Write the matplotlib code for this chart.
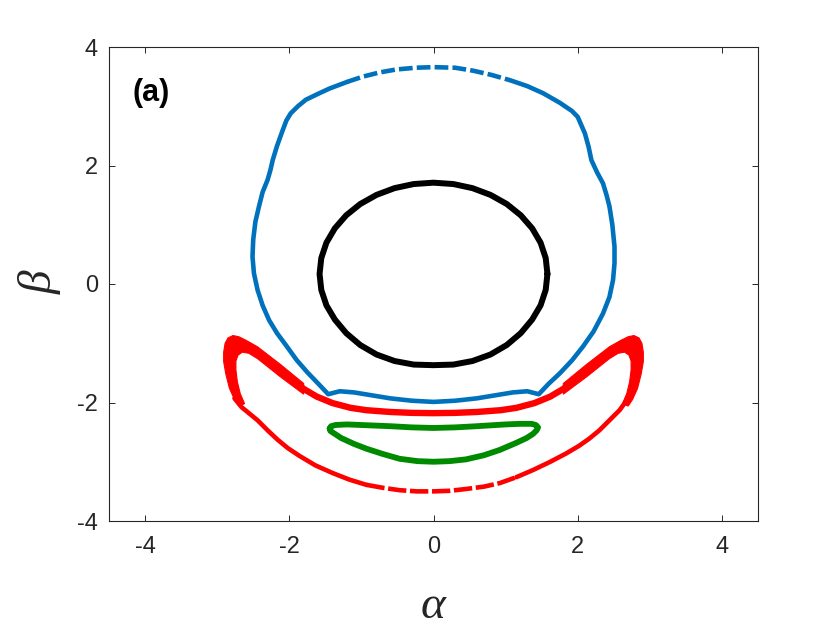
import matplotlib
matplotlib.use("Agg")
import matplotlib.pyplot as plt

# ---------------- data ----------------
# black closed orbit (ellipse-like)
black_x = [1.58, 1.556, 1.485, 1.368, 1.210, 1.016, 0.790, 0.540, 0.275, 0.0,
           -0.275, -0.540, -0.790, -1.016, -1.210, -1.368, -1.485, -1.556, -1.58,
           -1.556, -1.485, -1.368, -1.210, -1.016, -0.790, -0.540, -0.275, 0.0,
           0.275, 0.540, 0.790, 1.016, 1.210, 1.368, 1.485, 1.556, 1.58]
black_y = [0.17, 0.438, 0.697, 0.94, 1.160, 1.350, 1.504, 1.618, 1.687, 1.71,
           1.687, 1.618, 1.504, 1.350, 1.160, 0.94, 0.697, 0.438, 0.17,
           -0.10, -0.36, -0.60, -0.83, -1.03, -1.19, -1.30, -1.36, -1.37,
           -1.36, -1.30, -1.19, -1.03, -0.83, -0.60, -0.36, -0.10, 0.17]

# blue closed orbit
blue_x = [0.0, 0.30, 0.55, 0.80, 1.06, 1.30, 1.52, 1.75, 1.92, 2.00, 2.05,
          2.10, 2.15, 2.19, 2.27, 2.35, 2.40, 2.44, 2.48, 2.51, 2.51, 2.49,
          2.44, 2.35, 2.22, 2.07, 1.92, 1.75, 1.60, 1.46, 1.30, 1.10, 0.90,
          0.60, 0.30, 0.0, -0.30, -0.60, -0.90, -1.10, -1.30, -1.46, -1.60,
          -1.75, -1.90, -2.03, -2.17, -2.28, -2.37, -2.44, -2.49, -2.51,
          -2.50, -2.47, -2.42, -2.37, -2.30, -2.26, -2.23, -2.17, -2.09,
          -2.04, -1.98, -1.88, -1.77, -1.60, -1.44, -1.20, -0.98, -0.75,
          -0.52, -0.25, 0.0]
blue_y = [3.66, 3.65, 3.60, 3.53, 3.44, 3.34, 3.22, 3.06, 2.92, 2.82, 2.68,
          2.54, 2.32, 2.09, 1.88, 1.70, 1.50, 1.31, 1.00, 0.63, 0.35, 0.07,
          -0.22, -0.50, -0.80, -1.06, -1.29, -1.51, -1.68, -1.86, -1.81,
          -1.83, -1.87, -1.93, -1.97, -1.99, -1.97, -1.93, -1.87, -1.83,
          -1.81, -1.86, -1.68, -1.49, -1.28, -1.06, -0.83, -0.61, -0.36,
          -0.10, 0.18, 0.46, 0.75, 1.05, 1.31, 1.55, 1.76, 1.93, 2.09,
          2.33, 2.60, 2.76, 2.88, 3.00, 3.11, 3.21, 3.30, 3.41, 3.50,
          3.57, 3.62, 3.65, 3.66]

# red orbit: upper arm (dense), lower arc (sparse) and the two thick lobes
red_arm_x = [-2.70, -2.55, -2.40, -2.25, -2.10, -1.95, -1.80, -1.62, -1.40,
             -1.15, -0.93, -0.60, -0.30, 0.0, 0.30, 0.60, 0.93, 1.15, 1.40,
             1.62, 1.80, 1.95, 2.10, 2.25, 2.40, 2.55, 2.70]
red_arm_y = [-0.97, -1.07, -1.19, -1.33, -1.48, -1.63, -1.77, -1.90, -2.01,
             -2.09, -2.13, -2.16, -2.175, -2.18, -2.175, -2.16, -2.13, -2.09,
             -2.01, -1.90, -1.77, -1.63, -1.48, -1.33, -1.19, -1.07, -0.97]
red_low_x = [-2.76, -2.66, -2.55, -2.44, -2.30, -2.16, -2.02, -1.86, -1.64,
             -1.40, -1.17, -0.93, -0.70, -0.47, -0.23, 0.0, 0.23, 0.45, 0.70,
             0.92, 1.15, 1.38, 1.62, 1.84, 2.02, 2.16, 2.30, 2.44, 2.58,
             2.70, 2.80]
red_low_y = [-1.93, -2.08, -2.19, -2.30, -2.47, -2.63, -2.77, -2.90, -3.06,
             -3.19, -3.30, -3.39, -3.44, -3.48, -3.50, -3.50, -3.49, -3.46,
             -3.42, -3.36, -3.26, -3.14, -3.00, -2.86, -2.73, -2.61, -2.47,
             -2.30, -2.13, -1.93, -1.70]
red_lobe_left_x = [-1.80, -2.12, -2.44, -2.60, -2.70, -2.78, -2.85, -2.89,
                   -2.91, -2.91, -2.88, -2.83, -2.76, -2.70, -2.62, -2.68,
                   -2.72, -2.74, -2.74, -2.71, -2.65, -2.56, -2.44, -2.12,
                   -1.80]
red_lobe_left_y = [-1.68, -1.36, -1.06, -0.95, -0.89, -0.87, -0.91, -1.00,
                   -1.15, -1.31, -1.52, -1.76, -1.95, -2.06, -2.02, -1.85,
                   -1.65, -1.45, -1.30, -1.20, -1.15, -1.17, -1.26, -1.57,
                   -1.86]
red_lobe_right_x = [1.80, 2.12, 2.44, 2.60, 2.70, 2.78, 2.85, 2.89,
                    2.91, 2.91, 2.88, 2.83, 2.76, 2.70, 2.62, 2.68,
                    2.72, 2.74, 2.74, 2.71, 2.65, 2.56, 2.44, 2.12,
                    1.80]
red_lobe_right_y = [-1.68, -1.36, -1.06, -0.95, -0.89, -0.87, -0.91, -1.00,
                    -1.15, -1.31, -1.52, -1.76, -1.95, -2.06, -2.02, -1.85,
                    -1.65, -1.45, -1.30, -1.20, -1.15, -1.17, -1.26, -1.57,
                    -1.86]

# green closed orbit
green_x = [-1.44, -1.42, -1.36, -1.20, -1.00, -0.60, -0.30, 0.0, 0.30, 0.60,
           1.00, 1.20, 1.36, 1.42, 1.45, 1.43, 1.38, 1.29, 1.15, 0.92, 0.70,
           0.45, 0.22, 0.0, -0.22, -0.47, -0.70, -0.93, -1.10, -1.28, -1.38,
           -1.43, -1.44]
green_y = [-2.44, -2.40, -2.38, -2.37, -2.38, -2.40, -2.42, -2.43, -2.42, -2.40,
           -2.37, -2.36, -2.36, -2.38, -2.42, -2.47, -2.53, -2.60, -2.68, -2.80,
           -2.89, -2.96, -2.99, -3.00, -2.99, -2.95, -2.87, -2.78, -2.70, -2.60,
           -2.52, -2.48, -2.44]

xticks = [-4, -2, 0, 2, 4]
yticks = [-4, -2, 0, 2, 4]
panel_label = "(a)"

# ---------------- drawing ----------------
plt.rcParams['font.family'] = ['Liberation Sans', 'DejaVu Sans']

fig = plt.figure(figsize=(8.4, 6.3), dpi=100)
ax = fig.add_axes([109 / 840, 109 / 630, 649 / 840, 474 / 630])

BLUE = '#0072BD'
RED = '#FF0000'
GREEN = '#008A00'

kw = dict(solid_capstyle='round', solid_joinstyle='round')

# blue: sparse (dashed-looking) top part, dense solid remainder
top_a = 4          # index where the sparse top part ends (right side)
top_b = 67         # index where the sparse top part starts (left side)
ax.plot(blue_x[top_a:top_b + 1], blue_y[top_a:top_b + 1], color=BLUE, lw=3.3, **kw)
ax.plot(blue_x[top_b:] + blue_x[1:top_a + 1], blue_y[top_b:] + blue_y[1:top_a + 1],
        color=BLUE, lw=3.3, linestyle=(0, (3.0, 0.9)), dash_capstyle='butt')

ax.plot(black_x, black_y, color='black', lw=4.3, **kw)
ax.plot(red_arm_x, red_arm_y, color=RED, lw=4.6, **kw)
ax.plot(red_low_x[:12], red_low_y[:12], color=RED, lw=3.3, **kw)
ax.plot(red_low_x[11:21], red_low_y[11:21], color=RED, lw=3.3,
        linestyle=(0, (4.0, 0.8)), dash_capstyle='butt')
ax.plot(red_low_x[20:], red_low_y[20:], color=RED, lw=3.3, **kw)
ax.fill(red_lobe_left_x, red_lobe_left_y, color=RED, lw=0.8, ec=RED)
ax.fill(red_lobe_right_x, red_lobe_right_y, color=RED, lw=0.8, ec=RED)
ax.plot(green_x, green_y, color=GREEN, lw=4.2, **kw)

ax.set_xlim(-4.5, 4.5)
ax.set_ylim(-4, 4)
ax.set_xticks(xticks)
ax.set_yticks(yticks)
ax.set_xticklabels([str(t) for t in xticks])
ax.set_yticklabels([str(t) for t in yticks])

axcol = '#262626'
for s in ax.spines.values():
    s.set_color(axcol)
    s.set_linewidth(0.8)
ax.tick_params(direction='in', length=4.5, width=0.7, colors=axcol,
               labelsize=17, top=True, right=True, labelcolor=axcol)
ax.tick_params(axis='x', pad=11)
ax.tick_params(axis='y', pad=8)

ax.text(-3.92, 3.22, panel_label, fontsize=22, fontweight='bold',
        ha='center', va='center', color='black')

fig.text(433 / 840, 12 / 630, 'α', fontsize=34, fontstyle='italic',
         family='Liberation Serif', ha='center', va='baseline', color=axcol)
fig.text(40 / 840, 1 - 282 / 630, 'β', fontsize=34, fontstyle='italic',
         family='Liberation Serif', ha='center', va='center', rotation=90,
         color=axcol)

fig.savefig('out.png', dpi=100)
